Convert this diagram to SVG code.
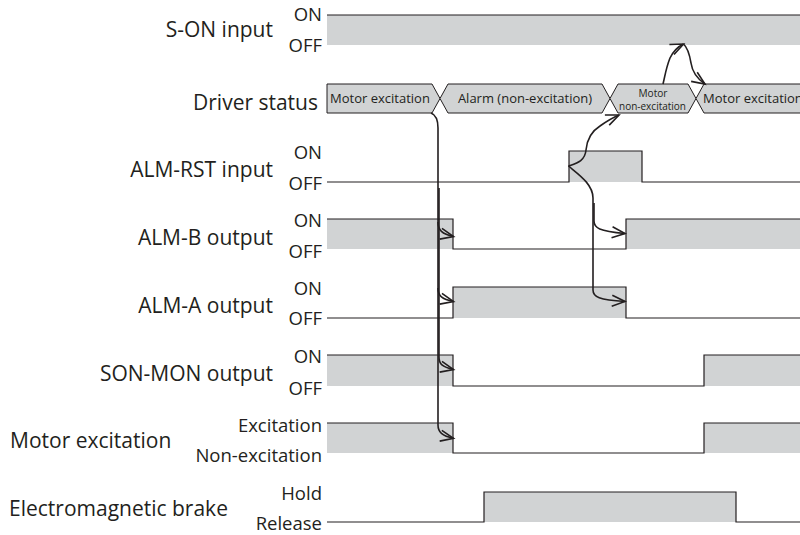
<svg xmlns="http://www.w3.org/2000/svg" width="800" height="535" viewBox="0 0 800 535">
<style>
.lab{font-family:"Open Sans","Liberation Sans",sans-serif;font-size:21px;fill:#231f20;text-anchor:end}
.labl{font-family:"Open Sans","Liberation Sans",sans-serif;font-size:21px;fill:#231f20}
.st{font-family:"Open Sans","Liberation Sans",sans-serif;font-size:18.5px;fill:#231f20;text-anchor:end}
.bx{font-family:"Open Sans","Liberation Sans",sans-serif;font-size:13px;fill:#231f20}
.sm{font-family:"Open Sans","Liberation Sans",sans-serif;font-size:10.5px;fill:#231f20;text-anchor:middle}
.gf{fill:#d1d3d4;stroke:none}
.sig{fill:none;stroke:#231f20;stroke-width:1.2}
.box{fill:#d1d3d4;stroke:#231f20;stroke-width:1}
.arr{fill:none;stroke:#231f20;stroke-width:1.6;marker-end:url(#ah)}
</style>
<defs>
<marker id="ah" markerUnits="userSpaceOnUse" markerWidth="20" markerHeight="20" refX="0" refY="0" viewBox="-15 -10 20 20" orient="auto">
<path d="M-13,-5.5 L0,0 L-13,5.5" fill="none" stroke="#231f20" stroke-width="1.6"/>
</marker>
</defs>

<g id="s-on">
<rect class="gf" x="327" y="15" width="473" height="30"/>
<path class="sig" d="M327,15 H800"/>
<text class="lab" x="273" y="37">S-ON input</text>
<text class="st" x="322" y="21">ON</text>
<text class="st" x="322" y="52">OFF</text>
</g>

<g id="driver-status">
<text class="lab" x="318" y="110">Driver status</text>
<path class="box" d="M327,84 H432 L440,98.5 L432,113 H327 Z"/>
<path class="box" d="M448,84 H602 L610,98.5 L602,113 H448 L440,98.5 Z"/>
<path class="box" d="M618,84 H688 L696,98.5 L688,113 H618 L610,98.5 Z"/>
<path class="box" d="M704,84 H801 V113 H704 L696,98.5 Z"/>
<text class="bx" x="380" y="103" text-anchor="middle">Motor excitation</text>
<text class="bx" x="525" y="103" text-anchor="middle">Alarm (non-excitation)</text>
<text class="sm" x="653" y="96.5" textLength="29" lengthAdjust="spacingAndGlyphs">Motor</text>
<text class="sm" x="652.5" y="109.5" textLength="67" lengthAdjust="spacingAndGlyphs">non-excitation</text>
<text class="bx" x="703" y="103">Motor excitation</text>
</g>

<g id="alm-rst">
<rect class="gf" x="569" y="151" width="73" height="31"/>
<path class="sig" d="M327,182 H569 V151 H642 V182 H800"/>
<text class="lab" x="273" y="177">ALM-RST input</text>
<text class="st" x="322" y="159">ON</text>
<text class="st" x="322" y="190">OFF</text>
</g>

<g id="alm-b">
<rect class="gf" x="327" y="219" width="126" height="30"/>
<rect class="gf" x="626" y="219" width="174" height="30"/>
<path class="sig" d="M327,219 H453 V249 H626 V219 H800"/>
<text class="lab" x="273" y="245">ALM-B output</text>
<text class="st" x="322" y="227">ON</text>
<text class="st" x="322" y="258">OFF</text>
</g>

<g id="alm-a">
<rect class="gf" x="453" y="287" width="173" height="31"/>
<path class="sig" d="M327,318 H453 V287 H626 V318 H800"/>
<text class="lab" x="273" y="313">ALM-A output</text>
<text class="st" x="322" y="295">ON</text>
<text class="st" x="322" y="325">OFF</text>
</g>

<g id="son-mon">
<rect class="gf" x="327" y="355" width="126" height="31"/>
<rect class="gf" x="704" y="355" width="96" height="31"/>
<path class="sig" d="M327,355 H453 V386 H704 V355 H800"/>
<text class="lab" x="273" y="381">SON-MON output</text>
<text class="st" x="322" y="363">ON</text>
<text class="st" x="322" y="395">OFF</text>
</g>

<g id="motor-excitation">
<rect class="gf" x="327" y="423" width="126" height="30"/>
<rect class="gf" x="704" y="423" width="96" height="30"/>
<path class="sig" d="M327,423 H453 V453 H704 V423 H800"/>
<text class="labl" x="10" y="448">Motor excitation</text>
<text class="st" x="322" y="432">Excitation</text>
<text class="st" x="322" y="462">Non-excitation</text>
</g>

<g id="brake">
<rect class="gf" x="484" y="492" width="252" height="30"/>
<path class="sig" d="M327,522 H484 V492 H736 V522 H800"/>
<text class="labl" x="9" y="516" font-size="22">Electromagnetic brake</text>
<text class="st" x="322" y="500">Hold</text>
<text class="st" x="322" y="530">Release</text>
</g>

<g id="connectors">
<path class="arr" d="M431,113 C436,115 438,120 438,128 L438,425 C438,432 442,436 453.5,438.3"/>
<path class="arr" d="M438,222 C438,230 442,234 453.5,236.5"/>
<path class="arr" d="M438,288 C438,296 442,299 453.5,301.5"/>
<path class="arr" d="M439,188 L439,357 C439,364 442,367 453.5,369.5"/>
<path class="arr" d="M568.5,166 C577,163 585,161 586,150 C587,139 592,131 600,126 C607,121 612,118 619,115"/>
<path class="arr" d="M568.5,166 C578,174 593,184 593,198 L593,290 C593,297 599,300 625,301.5"/>
<path class="arr" d="M594,203 L594,221 C594,228 599,231 625,233.5"/>
<path class="arr" d="M663,84 C665,76 666,68 670,58 C673,52 677,47 683.5,44"/>
<path class="arr" d="M683.5,44 C688,48 690,57 691,63 C692,70 696,78 705,84"/>
</g>
</svg>
